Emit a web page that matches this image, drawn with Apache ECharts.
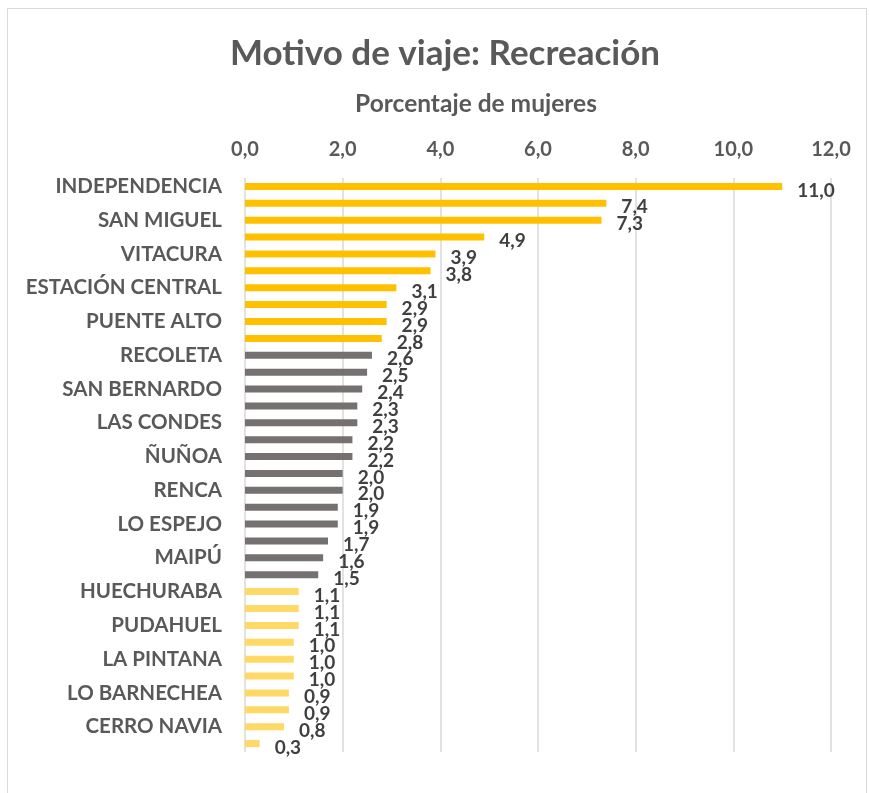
<!DOCTYPE html>
<html>
<head>
<meta charset="utf-8">
<script src="https://cdn.jsdelivr.net/npm/echarts@6/dist/echarts.min.js"></script>
<style>
  html, body { margin: 0; padding: 0; background: #fff; }
  #frame { position: absolute; left: 7px; top: 8px; width: 860px; height: 800px; border: 1px solid #d9d9d9; box-sizing: border-box; }
  #chart { position: absolute; left: 0; top: 0; width: 869px; height: 793px; }
</style>
</head>
<body>
<div id="frame"></div>
<div id="chart"></div>
<script>
// comunas, de mayor a menor (solo se ven una de cada dos etiquetas)
const comunas = [
  "INDEPENDENCIA", "SANTIAGO", "SAN MIGUEL", "PROVIDENCIA", "VITACURA",
  "LA REINA", "ESTACIÓN CENTRAL", "MACUL", "PUENTE ALTO", "LA FLORIDA",
  "RECOLETA", "PEÑALOLÉN", "SAN BERNARDO", "LA CISTERNA", "LAS CONDES",
  "SAN JOAQUÍN", "ÑUÑOA", "QUINTA NORMAL", "RENCA", "CONCHALÍ",
  "LO ESPEJO", "EL BOSQUE", "MAIPÚ", "LA GRANJA", "HUECHURABA",
  "CERRILLOS", "PUDAHUEL", "SAN RAMÓN", "LA PINTANA", "LO PRADO",
  "LO BARNECHEA", "PEDRO AGUIRRE CERDA", "CERRO NAVIA", "QUILICURA"
]
const porcentajes = [
  11.0, 7.4, 7.3, 4.9, 3.9, 3.8, 3.1, 2.9, 2.9, 2.8,
  2.6, 2.5, 2.4, 2.3, 2.3, 2.2, 2.2, 2.0, 2.0, 1.9,
  1.9, 1.7, 1.6, 1.5, 1.1, 1.1, 1.1, 1.0, 1.0, 1.0,
  0.9, 0.9, 0.8, 0.3
]
// grupo de color de cada barra: 0 = alto, 1 = medio, 2 = bajo
const grupos = [
  0, 0, 0, 0, 0, 0, 0, 0, 0, 0,
  1, 1, 1, 1, 1, 1, 1, 1, 1, 1,
  1, 1, 1, 1, 2, 2, 2, 2, 2, 2,
  2, 2, 2, 2
]
const colores = ["#ffc000", "#767171", "#ffd966"]
const ticks = [0, 2, 4, 6, 8, 10, 12]

const fmt = v => Number(v).toFixed(1).replace(".", ",")
const fontFamily = "Lato, 'Open Sans', sans-serif"

const chart = echarts.init(document.getElementById("chart"))
chart.setOption({
  animation: false,
  textStyle: { fontFamily },
  title: {
    text: "Motivo de viaje: Recreación",
    left: 440,
    textAlign: "center",
    top: 31,
    textStyle: { fontSize: 35, fontWeight: "bold", color: "#595959", fontFamily }
  },
  grid: { left: 245, right: 38, top: 178, bottom: 41 },
  xAxis: {
    type: "value",
    position: "top",
    min: ticks[0],
    max: ticks[ticks.length - 1],
    interval: 2,
    name: "Porcentaje de mujeres",
    nameLocation: "middle",
    nameGap: 61,
    nameTextStyle: { fontSize: 24.5, fontWeight: "bold", color: "#595959", padding: [0, 124, 0, 0] },
    axisLine: { show: false },
    axisTick: { show: false },
    axisLabel: { margin: 18, fontSize: 20, fontWeight: "bold", color: "#595959", formatter: fmt },
    splitLine: { show: true, lineStyle: { color: "#d9d9d9", width: 1.5 } }
  },
  yAxis: {
    type: "category",
    inverse: true,
    data: comunas,
    axisLine: { show: false },
    axisTick: { show: false },
    axisLabel: { interval: 1, margin: 23, fontSize: 20.5, fontWeight: "bold", color: "#595959" }
  },
  series: [{
    type: "bar",
    barWidth: 7,
    data: porcentajes.map((v, i) => ({ value: v, itemStyle: { color: colores[grupos[i]] } })),
    label: {
      show: true,
      position: "right",
      distance: 15,
      offset: [0, 4],
      fontSize: 19,
      fontWeight: "bold",
      color: "#404040",
      formatter: p => fmt(p.value)
    }
  }]
})
</script>
</body>
</html>
